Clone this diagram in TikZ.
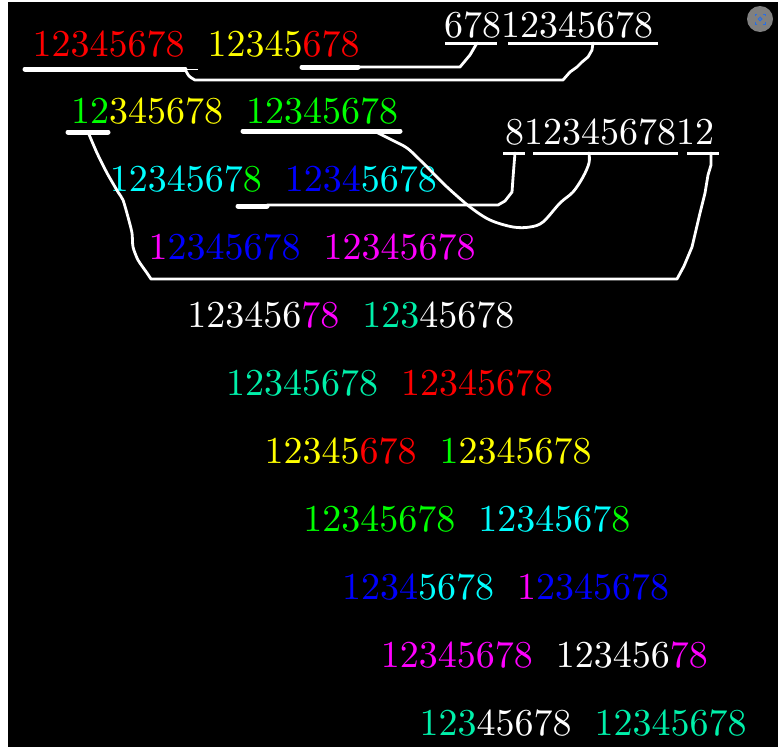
\documentclass[tikz,border=0pt]{standalone}
\font\dgfont=cmr10 at 38pt
\begin{document}
\begin{tikzpicture}[x=1pt,y=-1pt,
  dg/.style={anchor=base west,inner sep=0pt,outer sep=0pt,font=\dgfont},
  thinline/.style={white,line width=2.8pt,line cap=round,line join=round},
  thickline/.style={white,line width=5pt,line cap=round},
  topline/.style={white,line width=3pt}]
\definecolor{cR}{RGB}{255,0,0}
\definecolor{cY}{RGB}{255,255,0}
\definecolor{cG}{RGB}{0,255,0}
\definecolor{cC}{RGB}{0,255,255}
\definecolor{cB}{RGB}{0,0,255}
\definecolor{cM}{RGB}{255,0,255}
\definecolor{cW}{RGB}{255,255,255}
\definecolor{cS}{RGB}{0,240,170}
\definecolor{icongray}{RGB}{128,128,128}
\definecolor{iconblue}{RGB}{40,110,230}
\useasboundingbox (0,0) rectangle (778,747);
\fill[white] (0,0) rectangle (778,747);
\fill[black] (8,2) rectangle (778,747);
% rows
\node[dg] (r0a) at (32.5,56) {\color{cR}12345678};
\node[dg] (r0b) at (207.5,56) {\color{cY}12345\color{cR}678};
\node[dg] (r1a) at (71.2,123.9) {\color{cG}12\color{cY}345678};
\node[dg] (r1b) at (246.2,123.9) {\color{cG}12345678};
\node[dg] (r2a) at (109.9,191.8) {\color{cC}1234567\color{cG}8};
\node[dg] (r2b) at (284.9,191.8) {\color{cB}1234\color{cC}5678};
\node[dg] (r3a) at (148.6,259.7) {\color{cM}1\color{cB}2345678};
\node[dg] (r3b) at (323.6,259.7) {\color{cM}12345678};
\node[dg] (r4a) at (187.3,327.6) {\color{cW}123456\color{cM}78};
\node[dg] (r4b) at (362.3,327.6) {\color{cS}123\color{cW}45678};
\node[dg] (r5a) at (226.0,395.5) {\color{cS}12345678};
\node[dg] (r5b) at (401.0,395.5) {\color{cR}12345678};
\node[dg] (r6a) at (264.7,463.4) {\color{cY}12345\color{cR}678};
\node[dg] (r6b) at (439.7,463.4) {\color{cG}1\color{cY}2345678};
\node[dg] (r7a) at (303.4,531.3) {\color{cG}12345678};
\node[dg] (r7b) at (478.4,531.3) {\color{cC}1234567\color{cG}8};
\node[dg] (r8a) at (342.1,599.2) {\color{cB}1234\color{cC}5678};
\node[dg] (r8b) at (517.1,599.2) {\color{cM}1\color{cB}2345678};
\node[dg] (r9a) at (380.8,667.1) {\color{cM}12345678};
\node[dg] (r9b) at (555.8,667.1) {\color{cW}123456\color{cM}78};
\node[dg] (r10a) at (419.5,735.0) {\color{cS}123\color{cW}45678};
\node[dg] (r10b) at (594.5,735.0) {\color{cS}12345678};
% top right labels
\node[dg] (t1) at (444,37) {\color{cW}67812345678};
\node[dg] (t2) at (505,144) {\color{cW}81234567812};
% top underlines
\draw[topline] (445,43) -- (497,43);
\draw[topline] (508,43) -- (658,43);
\draw[topline] (503,153) -- (525,153);
\draw[topline] (533,153) -- (678,153);
\draw[topline] (687,153) -- (719,153);
% thick underlines
\draw[thickline] (25,69) -- (185,69);
\draw[thickline] (302,67) -- (358,67);
\draw[thickline] (68,132) -- (108,132);
\draw[thickline] (243,131) -- (400,131);
\draw[thickline] (238,206) -- (267,206);
% connectors
\draw[thinline] (358,67) -- (460,67) -- (470,55) -- (477,43);
\draw[white,line width=1pt] (185,69) -- (198,69);
\draw[thinline] plot[smooth] coordinates {(185,69) (189,76) (195,80)} -- (563,80)
  -- (570,72) -- (577,67) -- (582,62) -- (588,57) -- (592,50) -- (593,43);
\draw[thinline] plot[smooth,tension=0.4] coordinates {(88,132) (97,153) (107,173) (118,192) (123,200) (128,217) (132,233) (133,247) (138,260) (147,273) (151,279)}
  -- (677,279) -- (684,266) -- (692,247) -- (696,230) -- (700,213) -- (705,193) -- (708,175) -- (711,165) -- (711,153);
\draw[thinline] plot[smooth,tension=0.55] coordinates {(376,132) (392,140) (407,148) (420,160) (432,172) (447,187) (470,207) (490,220) (513,227) (530,227) (543,222) (560,203) (573,192) (583,177) (589,163) (589,153)};
\draw[thinline] (267,205) -- (498,205) -- (505,201) -- (512,192) -- (513,178) -- (514,165) -- (515,153);
% icon
\fill[icongray] (760,19) circle (13);
\begin{scope}[iconblue,line width=1pt]
\draw (755,16) -- (755,14) -- (757,14);
\draw (763,14) -- (765,14) -- (765,16);
\draw (765,22) -- (765,24) -- (763,24);
\draw (757,24) -- (755,24) -- (755,22);
\draw (760,19) circle (1.8);
\end{scope}
\end{tikzpicture}
\end{document}
